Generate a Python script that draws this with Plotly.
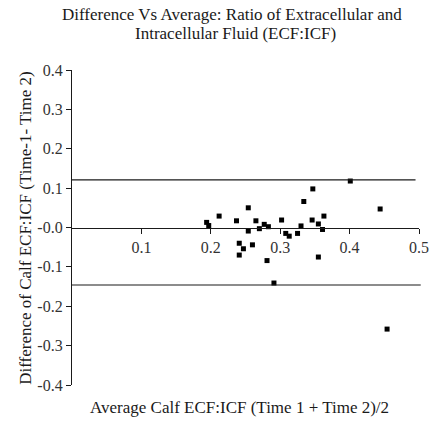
import plotly.graph_objects as go

avg_x = [0.194, 0.197, 0.212, 0.237, 0.254, 0.254, 0.265, 0.270, 0.277, 0.283,
         0.302, 0.330, 0.308, 0.313, 0.325, 0.241, 0.247, 0.260, 0.241, 0.281,
         0.291, 0.334, 0.401, 0.347, 0.444, 0.363, 0.346, 0.355, 0.361, 0.355,
         0.454]
diff_y = [0.013, 0.005, 0.029, 0.017, 0.050, -0.009, 0.017, -0.003, 0.008, 0.002,
          0.019, 0.004, -0.015, -0.022, -0.015, -0.040, -0.054, -0.044, -0.070, -0.084,
          -0.141, 0.066, 0.118, 0.098, 0.047, 0.029, 0.019, 0.009, -0.005, -0.075,
          -0.258]
upper_loa = 0.121
lower_loa = -0.146

x_ticks = [0.1, 0.2, 0.3, 0.4, 0.5]
x_ticktext = ["0.1", "0.2", "0.3", "0.4", "0.5"]
y_ticks = [0.4, 0.3, 0.2, 0.1, 0.0, -0.1, -0.2, -0.3, -0.4]
y_ticktext = ["0.4", "0.3", "0.2", "0.1", "-0.0", "-0.1", "-0.2", "-0.3", "-0.4"]

title_lines = ["Difference Vs Average: Ratio of Extracellular and",
               "Intracellular Fluid (ECF:ICF)"]
x_title = "Average Calf ECF:ICF (Time 1 + Time 2)/2"
y_title = "Difference of Calf ECF:ICF (Time-1- Time 2)"

FONT = "Liberation Serif"
INK = "#1a1a1a"

L, R, T, B = 72, 11, 70, 38
W, H = 440, 423
PW, PH = W - L - R, H - T - B


def px_x(px):
    return (px - L) / PW


def px_y(py):
    return (H - B - py) / PH


fig = go.Figure()
fig.add_trace(go.Scatter(
    x=avg_x, y=diff_y, mode="markers",
    marker=dict(symbol="square", size=5, color="black"),
    cliponaxis=False, showlegend=False,
))

for v, x1 in [(upper_loa, 0.99), (lower_loa, 1.005)]:
    fig.add_shape(type="line", xref="paper", yref="y", x0=0, x1=x1, y0=v, y1=v,
                  line=dict(color=INK, width=1.2))

annotations = [
    dict(text=title_lines[0], xref="paper", yref="paper", x=px_x(237), y=px_y(15),
         xanchor="center", yanchor="middle", showarrow=False,
         font=dict(family=FONT, size=17, color=INK)),
    dict(text=title_lines[1], xref="paper", yref="paper", x=px_x(240), y=px_y(34),
         xanchor="center", yanchor="middle", showarrow=False,
         font=dict(family=FONT, size=17, color=INK)),
    dict(text=x_title, xref="paper", yref="paper", x=px_x(244), y=px_y(407),
         xanchor="center", yanchor="middle", showarrow=False,
         font=dict(family=FONT, size=17, color=INK)),
    dict(text=y_title, xref="paper", yref="paper", x=px_x(24), y=0.5,
         xanchor="center", yanchor="middle", textangle=-90, showarrow=False,
         font=dict(family=FONT, size=17, color=INK)),
]

fig.update_layout(
    width=W, height=H,
    margin=dict(l=L, r=R, t=T, b=B),
    paper_bgcolor="white", plot_bgcolor="white",
    font=dict(family=FONT, size=16, color=INK),
    xaxis=dict(
        range=[0, 0.5], tickvals=x_ticks, ticktext=x_ticktext,
        showgrid=False, zeroline=False, showline=True, linecolor=INK, linewidth=1.2,
        ticks="outside", ticklen=5, tickcolor=INK,
        anchor="free", position=0.5,
        tickfont=dict(family=FONT, size=16, color="#333"),
    ),
    yaxis=dict(
        range=[-0.4, 0.4], tickvals=y_ticks, ticktext=y_ticktext,
        showgrid=False, zeroline=False, showline=True, linecolor=INK, linewidth=1.2,
        ticks="outside", ticklen=5, tickcolor=INK,
        tickfont=dict(family=FONT, size=16, color="#333"),
    ),
    annotations=annotations,
)

fig.write_html("out.html")
